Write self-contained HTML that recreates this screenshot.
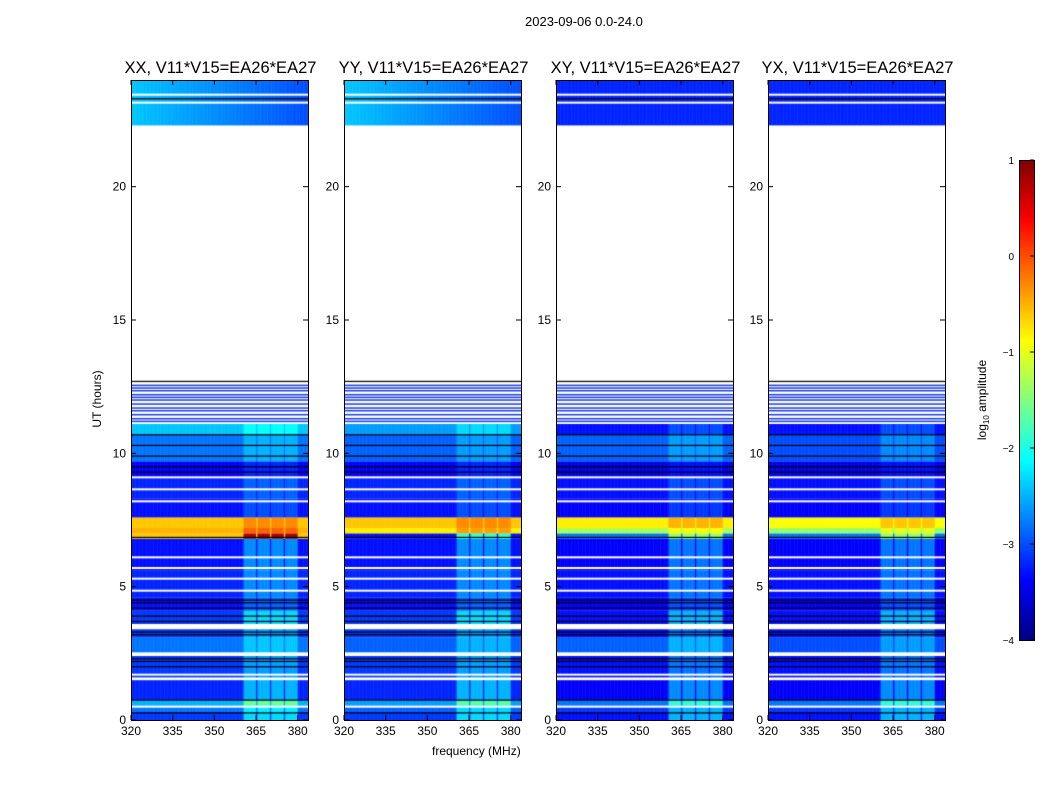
<!DOCTYPE html>
<html><head><meta charset="utf-8">
<style>
body{margin:0;background:#fff;}
#wrap{position:relative;width:1050px;height:800px;font-family:"Liberation Sans",sans-serif;color:#000;overflow:hidden}
.t{position:absolute;white-space:nowrap}
canvas{position:absolute}
</style></head><body>
<div id="wrap">
<div class="t" style="left:525px;top:14px;font-size:13px">2023-09-06 0.0-24.0</div>
<div class="t" style="left:62px;top:392px;font-size:12px;transform:rotate(-90deg);width:70px;text-align:center">UT (hours)</div>
<div class="t" style="left:432px;top:744px;font-size:12px">frequency (MHz)</div>
<svg id="svg" width="1050" height="800" style="position:absolute;left:0;top:0"></svg>
</div>
<script>
// time segments (hours) and log10 amplitude levels per polarization (null = flagged)
const segStart = [0.0,0.3,0.55,0.75,1.6,2.5,3.1,3.6,4.1,4.6,5.6,6.8,7.0,7.2,7.6,8.3,9.1,9.7,10.7,11.1,22.3];
const segEnd   = [0.3,0.55,0.75,1.5,2.4,3.1,3.4,4.1,4.6,5.6,6.8,7.0,7.2,7.6,8.3,9.1,9.7,10.7,11.1,12.6,24.0];
const levelXX  = [-3.1,-2.8,-2.5,-3.2,-3.1,-2.8,-3.1,-3.1,-3.3,-3.2,-3.3,-0.6,-0.5,-0.6,-3.3,-3.2,-3.4,-2.8,-2.4,null,-2.4];
const levelYY  = [-3.1,-2.9,-2.6,-3.2,-3.1,-2.9,-3.1,-3.1,-3.3,-3.2,-3.3,-3.3,-0.8,-0.6,-3.3,-3.2,-3.4,-2.9,-2.6,null,-2.4];
const levelXY  = [-3.3,-3.1,-2.8,-3.4,-3.3,-2.9,-3.3,-3.3,-3.4,-3.3,-3.4,-2.8,-1.3,-0.8,-3.4,-3.3,-3.5,-2.9,-3.3,null,-3.2];
const levelYX  = [-3.3,-3.1,-2.8,-3.4,-3.3,-3.0,-3.3,-3.3,-3.4,-3.3,-3.4,-2.8,-1.4,-0.9,-3.4,-3.3,-3.5,-3.0,-3.3,null,-3.2];
const sbBoost  = [0.8,0.6,0.9,0.7,0.5,0.4,0.5,0.8,0.4,0.5,0.6,1.4,0.4,0.3,0.3,0.3,0.2,0.3,0.3,0.0,0.0];
// flagged (white) and boundary (black) lines, hours
const whiteLines = [0.5,1.53,1.7,2.5,3.45,3.55,4.85,5.3,5.7,6.1,8.2,8.65,9.1,23.45,23.15];
const blackLines = [0.27,0.75,2.0,2.2,2.3,3.2,3.3,3.7,3.9,4.2,4.4,4.5,6.85,9.3,9.5,9.9,10.3,10.7,12.7,23.3];
const gapBlueLines = [11.2,11.3,11.45,11.6,11.7,11.85,12.0,12.1,12.2,12.35,12.45,12.55];
// sub-bands (MHz)
const sbStart = [360.5,365.2,370.4,375.4];
const sbEnd   = [364.8,370.0,375.0,379.8];
const polNames = ["XX","YY","XY","YX"];
const polLevels = [levelXX,levelYY,levelXY,levelYX];
const yTicks = [0,5,10,15,20];
const xTicks = [320,335,350,365,380];
const cbTicks = [1,0,-1,-2,-3,-4];

const PX=[131,344,556,768], PW=177, PT=80, PB=720;
const F0=320, F1=383.7, T0=0, T1=24;
function yOf(h){return PB-(h-T0)/(T1-T0)*(PB-PT);}
function xOf(p,f){return PX[p]+(f-F0)/(F1-F0)*PW;}
function jet(v){
  const c=x=>Math.max(0,Math.min(1,x));
  const r=c(1.5-Math.abs(4*v-3)), g=c(1.5-Math.abs(4*v-2)), b=c(1.5-Math.abs(4*v-1));
  return `rgb(${Math.round(r*255)},${Math.round(g*255)},${Math.round(b*255)})`;
}
function col(l){return jet((l+4)/5);}
function inSb(f){for(let i=0;i<sbStart.length;i++) if(f>=sbStart[i]&&f<sbEnd[i]) return true; return false;}

const wrap=document.getElementById('wrap');
const svg=document.getElementById('svg');
const NS='http://www.w3.org/2000/svg';
function el(tag,attrs,parent){const e=document.createElementNS(NS,tag);for(const k in attrs)e.setAttribute(k,attrs[k]);(parent||svg).appendChild(e);return e;}

for(let p=0;p<4;p++){
  const cv=document.createElement('canvas');
  cv.width=PW;cv.height=PB-PT;cv.style.left=PX[p]+'px';cv.style.top=PT+'px';
  
  
  wrap.insertBefore(cv,svg);
  const ctx=cv.getContext('2d');
  const lv=polLevels[p];
  for(let s=0;s<segStart.length;s++){
    if(lv[s]===null) continue;
    const y0=yOf(segEnd[s])-PT, y1=yOf(segStart[s])-PT;
    for(let f=F0;f<F1;f+=0.5){
      let l=lv[s];
      if(s===segStart.length-1 && p<2) l-= (f-F0)/(F1-F0)*0.6;
      if(inSb(f)) l+=sbBoost[s];
      ctx.fillStyle=col(Math.min(1,l));
      const x0=xOf(p,f)-PX[p];
      ctx.fillRect(x0,y0,xOf(p,f+0.5)-xOf(p,f)+0.5,y1-y0);
    }
  }
  ctx.fillStyle='#fff';
  whiteLines.forEach(h=>ctx.fillRect(0,yOf(h)-PT-1,PW,2));
  ctx.fillStyle='#000';
  blackLines.forEach(h=>ctx.fillRect(0,yOf(h)-PT-0.5,PW,1.2));
  ctx.fillStyle='#1a3ce0';
  gapBlueLines.forEach(h=>ctx.fillRect(0,yOf(h)-PT-0.7,PW,1.5));

  const g=el('g',{});
  
  
  el('rect',{x:PX[p]+0.5,y:PT+0.5,width:PW,height:PB-PT,fill:'none',stroke:'#000','stroke-width':1},g);
  const tt=el('text',{x:PX[p]+PW/2+1,y:73,'text-anchor':'middle','font-size':16.5,'font-family':'Liberation Sans, sans-serif'},g);
  tt.textContent=polNames[p]+', V11*V15=EA26*EA27';
  
  
  yTicks.forEach(v=>{
    const y=yOf(v);
    el('line',{x1:PX[p],x2:PX[p]+5,y1:y,y2:y,stroke:'#000'},g);
    el('line',{x1:PX[p]+PW-5,x2:PX[p]+PW,y1:y,y2:y,stroke:'#000'},g);
    const t=el('text',{x:PX[p]-5,y:y+4,'text-anchor':'end','font-size':12,'font-family':'Liberation Sans, sans-serif'},g);
    t.textContent=v;
    
    
  });
  xTicks.forEach(v=>{
    const x=xOf(p,v);
    el('line',{x1:x,x2:x,y1:PB,y2:PB-5,stroke:'#000'},g);
    el('line',{x1:x,x2:x,y1:PT,y2:PT+5,stroke:'#000'},g);
    const t=el('text',{x:x,y:PB+15,'text-anchor':'middle','font-size':12,'font-family':'Liberation Sans, sans-serif'},g);
    t.textContent=v;
    
    
  });
}
// colorbar
const cb=el('g',{});


const CBX=1019,CBW=15,CBT=160,CBB=640;
for(let i=0;i<CBB-CBT;i++){
  const l=1-i/(CBB-CBT)*5;
  el('rect',{x:CBX,y:CBT+i,width:CBW,height:1.2,fill:col(l)},cb);
}
el('rect',{x:CBX+0.5,y:CBT+0.5,width:CBW,height:CBB-CBT,fill:'none',stroke:'#000'},cb);
cbTicks.forEach(v=>{
  const y=CBT+(1-v)/5*(CBB-CBT);
  el('line',{x1:CBX+CBW-4,x2:CBX+CBW,y1:y,y2:y,stroke:'#000'},cb);
  const t=el('text',{x:CBX-5,y:y+4,'text-anchor':'end','font-size':10,'font-family':'Liberation Sans, sans-serif'},cb);
  t.textContent=v<0?'\u2212'+(-v):v;
  
  
});
const cl=el('text',{transform:'translate(986,400) rotate(-90)','text-anchor':'middle','font-size':12,'font-family':'Liberation Sans, sans-serif'},cb);
cl.innerHTML='log<tspan font-size="8" dy="3">10</tspan><tspan dy="-3"> amplitude</tspan>';


</script>
</body></html>
